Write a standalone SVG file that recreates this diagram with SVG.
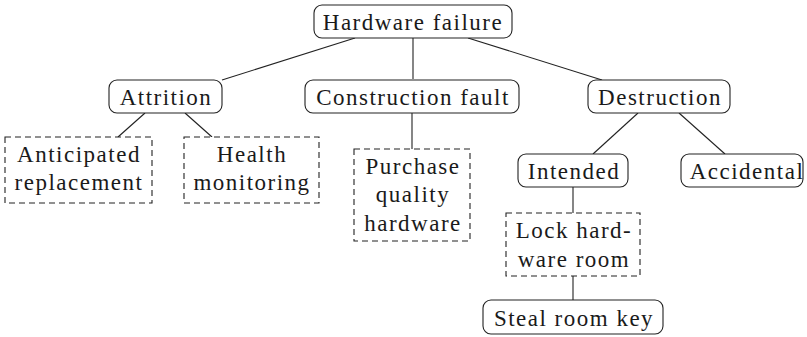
<svg xmlns="http://www.w3.org/2000/svg" width="807" height="337" viewBox="0 0 807 337">
<style>
.s{fill:#fff;stroke:#222;stroke-width:1.1}
.d{fill:#fff;stroke:#222;stroke-width:1.1;stroke-dasharray:6 4}
.c line{stroke:#222;stroke-width:1.1}
</style>
<rect width="807" height="337" fill="#fff"/>
<g class="c" id="connectors">
<line x1="355" y1="38" x2="222" y2="80"/>
<line x1="413" y1="38" x2="413" y2="79"/>
<line x1="468" y1="38" x2="602" y2="80"/>
<line x1="145" y1="113" x2="118" y2="137"/>
<line x1="185" y1="113" x2="212" y2="137"/>
<line x1="412" y1="113" x2="412" y2="149"/>
<line x1="638" y1="113" x2="593" y2="154"/>
<line x1="679" y1="113" x2="725" y2="154"/>
<line x1="573" y1="187" x2="573" y2="213"/>
<line x1="573" y1="276" x2="573" y2="300"/>
</g>
<g font-family="Liberation Serif" font-size="23" letter-spacing="1.5" fill="#1a1a1a" text-anchor="middle">
<g id="hardware-failure"><rect class="s" x="314" y="5" width="198" height="33" rx="8"/><text x="413" y="30">Hardware failure</text></g>
<g id="attrition"><rect class="s" x="109" y="80" width="113" height="33" rx="8"/><text x="166" y="105">Attrition</text></g>
<g id="construction-fault"><rect class="s" x="305" y="80" width="214" height="33" rx="8"/><text x="413" y="105">Construction fault</text></g>
<g id="destruction"><rect class="s" x="588" y="80" width="142" height="33" rx="8"/><text x="660" y="105">Destruction</text></g>
<g id="anticipated-replacement"><rect class="d" x="5" y="137" width="147" height="66"/><text x="79" y="162">Anticipated</text><text x="79" y="190">replacement</text></g>
<g id="health-monitoring"><rect class="d" x="184" y="137" width="135" height="66"/><text x="252" y="162">Health</text><text x="252" y="190">monitoring</text></g>
<g id="purchase-quality-hardware"><rect class="d" x="354" y="149" width="116" height="92"/><text x="413" y="174">Purchase</text><text x="413" y="202">quality</text><text x="413" y="231">hardware</text></g>
<g id="intended"><rect class="s" x="518" y="154" width="110" height="33" rx="8"/><text x="574" y="179">Intended</text></g>
<g id="accidental"><rect class="s" x="681" y="154" width="122" height="33" rx="8"/><text x="747" y="179">Accidental</text></g>
<g id="lock-hardware-room"><rect class="d" x="506" y="213" width="134" height="63"/><text x="574" y="238">Lock hard-</text><text x="574" y="267">ware room</text></g>
<g id="steal-room-key"><rect class="s" x="483" y="300" width="180" height="34" rx="8"/><text x="574" y="326">Steal room key</text></g>
</g>
</svg>
